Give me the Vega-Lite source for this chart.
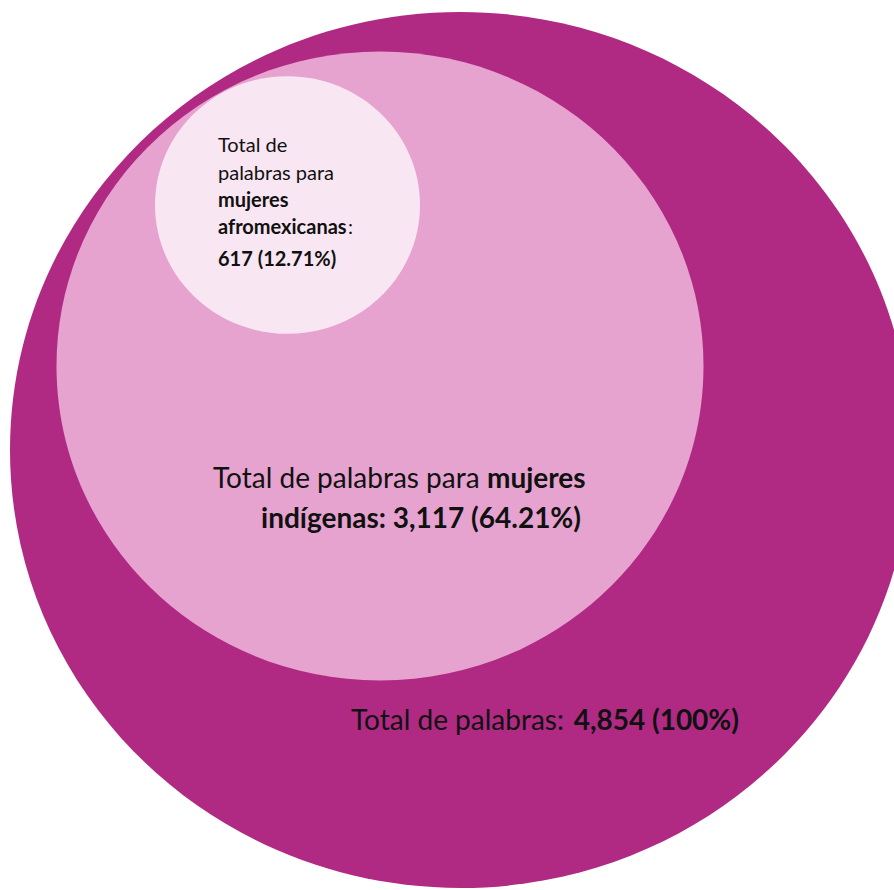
{
  "$schema": "https://vega.github.io/schema/vega-lite/v6.json",
  "width": 894,
  "height": 890,
  "autosize": {"type": "none"},
  "padding": 0,
  "background": "white",
  "config": {"view": {"stroke": null}},
  "datasets": {
    "circles": [
      {"name": "Total de palabras", "value": 4854, "cx": 460.6, "cy": 450, "rx": 450.6},
      {"name": "Mujeres indígenas", "value": 3117, "cx": 380, "cy": 366, "rx": 323.5},
      {"name": "Mujeres afromexicanas", "value": 617, "cx": 287.5, "cy": 205, "rx": 132.5}
    ],
    "labels": [
      {"text": "Total de", "x": 218, "y": 152, "w": "normal", "a": "left", "grp": "small"},
      {"text": "palabras para", "x": 218, "y": 180, "w": "normal", "a": "left", "grp": "small"},
      {"text": "mujeres", "x": 218, "y": 207, "w": "bold", "a": "left", "grp": "small"},
      {"text": "afromexicanas", "x": 218, "y": 234, "w": "bold", "a": "left", "grp": "small"},
      {"text": ":", "x": 348, "y": 234, "w": "normal", "a": "left", "grp": "small"},
      {"text": "617 (12.71%)", "x": 218, "y": 266, "w": "bold", "a": "left", "grp": "small"},
      {"text": "Total de palabras para", "x": 213, "y": 488, "w": "normal", "a": "left", "grp": "large"},
      {"text": "mujeres", "x": 487, "y": 488, "w": "bold", "a": "left", "grp": "large"},
      {"text": "indígenas: 3,117 (64.21%)", "x": 581, "y": 528, "w": "bold", "a": "right", "grp": "large"},
      {"text": "Total de palabras:", "x": 351, "y": 730, "w": "normal", "a": "left", "grp": "large"},
      {"text": "4,854 (100%)", "x": 739, "y": 730, "w": "bold", "a": "right", "grp": "large"}
    ]
  },
  "layer": [
    {
      "data": {"name": "circles"},
      "mark": {"type": "point", "filled": true, "opacity": 1, "strokeWidth": 0,
               "shape": "M-1,0A1,0.972,0,1,1,1,0A1,0.972,0,1,1,-1,0Z"},
      "encoding": {
        "x": {"field": "cx", "type": "quantitative", "scale": {"domain": [0, 894], "nice": false, "zero": false}, "axis": null},
        "y": {"field": "cy", "type": "quantitative", "scale": {"domain": [0, 890], "nice": false, "zero": false, "reverse": true}, "axis": null},
        "size": {"field": "rx", "type": "quantitative", "scale": {"type": "pow", "exponent": 2, "domain": [0, 1000], "range": [0, 4000000]}, "legend": null},
        "color": {"field": "name", "type": "nominal",
                  "scale": {"domain": ["Total de palabras", "Mujeres indígenas", "Mujeres afromexicanas"], "range": ["#B02A84", "#E6A3CF", "#F9E6F3"]},
                  "legend": null},
        "order": {"field": "value", "sort": "descending"}
      }
    },
    {
      "data": {"name": "labels"},
      "transform": [{"filter": "datum.w == 'normal' && datum.a == 'left'"}],
      "mark": {"type": "text", "font": "Lato", "fontWeight": "normal", "align": "left", "baseline": "alphabetic", "color": "#111111"},
      "encoding": {
        "x": {"field": "x", "type": "quantitative"},
        "y": {"field": "y", "type": "quantitative"},
        "text": {"field": "text"},
        "size": {"field": "grp", "type": "nominal", "scale": {"domain": ["small", "large"], "range": [20, 28]}, "legend": null}
      }
    },
    {
      "data": {"name": "labels"},
      "transform": [{"filter": "datum.w == 'bold' && datum.a == 'left'"}],
      "mark": {"type": "text", "font": "Lato", "fontWeight": "bold", "align": "left", "baseline": "alphabetic", "color": "#111111"},
      "encoding": {
        "x": {"field": "x", "type": "quantitative"},
        "y": {"field": "y", "type": "quantitative"},
        "text": {"field": "text"},
        "size": {"field": "grp", "type": "nominal", "scale": {"domain": ["small", "large"], "range": [20, 28]}, "legend": null}
      }
    },
    {
      "data": {"name": "labels"},
      "transform": [{"filter": "datum.w == 'bold' && datum.a == 'right'"}],
      "mark": {"type": "text", "font": "Lato", "fontWeight": "bold", "align": "right", "baseline": "alphabetic", "color": "#111111"},
      "encoding": {
        "x": {"field": "x", "type": "quantitative"},
        "y": {"field": "y", "type": "quantitative"},
        "text": {"field": "text"},
        "size": {"field": "grp", "type": "nominal", "scale": {"domain": ["small", "large"], "range": [20, 28]}, "legend": null}
      }
    }
  ]
}
